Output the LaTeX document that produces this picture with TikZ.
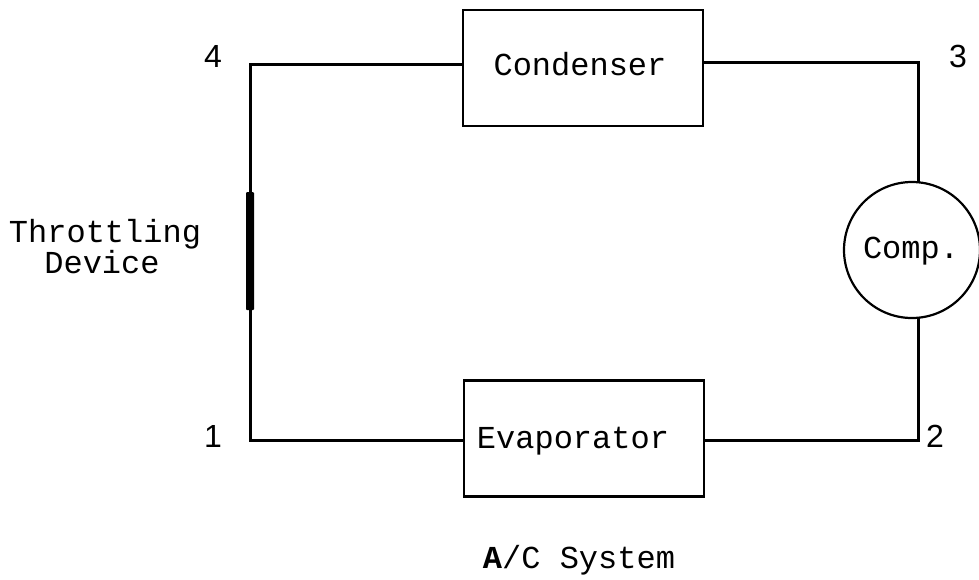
\documentclass[tikz,border=0pt]{standalone}
\usepackage{fontspec}
\setmonofont{Liberation Mono}
\setsansfont{Liberation Sans}
\begin{document}
\begin{tikzpicture}[x=1pt,y=-1pt,
  wire/.style={line width=3pt,line join=miter,line cap=rect},
  unitbox/.style={draw,line width=2.6pt,minimum width=240pt,minimum height=116pt,inner sep=0pt},
  tt/.style={font=\ttfamily\fontsize{32}{31}\selectfont,inner sep=0pt,anchor=base},
  num/.style={font=\sffamily\fontsize{32}{32}\selectfont,inner sep=0pt,anchor=base}]
\useasboundingbox (0,0) rectangle (979,579);
% components
\node[unitbox] (cond) at (583,68) {};
\node[unitbox] (evap) at (584,438.5) {};
\node[draw,circle,line width=2.2pt,minimum size=136pt,inner sep=0pt] (comp) at (912,250) {};
\node[fill=black,minimum width=8pt,minimum height=118pt,inner sep=0pt,rounded corners=1pt] (thr) at (250,251) {};
% texts
\node[tt] (tcond) at (580,75) {Condenser};
\node[tt] (tevap) at (573,448) {Evaporator};
\node[tt] (tcomp) at (911,258) {Comp.};
\node[tt] (tthr1) at (105,242) {Throttling};
\node[tt] (tthr2) at (102,273) {Device};
\node[tt] (title) at (579,568) {\textbf{A}/C System};
\node[num] (n4) at (213,67) {4};
\node[num] (n3) at (958,67) {3};
\node[num] (n1) at (213,447) {1};
\node[num] (n2) at (935,447) {2};
% corner points
\coordinate (p4) at (250,64);
\coordinate (p3) at (918,62);
\coordinate (p1) at (250,440);
\coordinate (p2) at (918,440);
% connectors
\draw[wire] (cond.west |- p4) -- (p4) -- (thr.north);
\draw[wire] (thr.south) -- (p1) -- (evap.west |- p1);
\draw[wire] (cond.east |- p3) -- (p3) -- (p3 |- comp.north);
\draw[wire] (evap.east |- p2) -- (p2) -- (p2 |- comp.south);
\end{tikzpicture}
\end{document}
